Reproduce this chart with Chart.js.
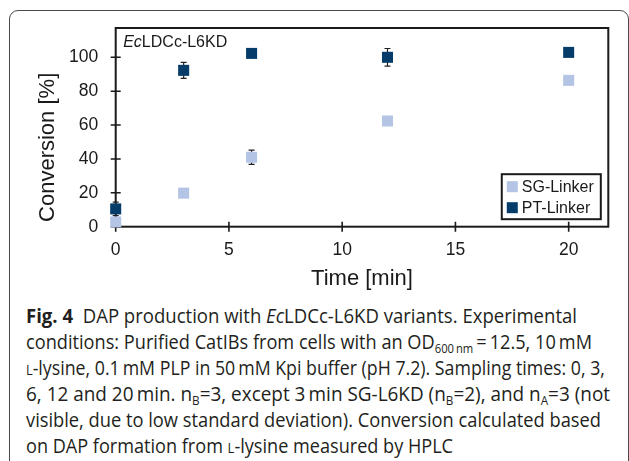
<!DOCTYPE html>
<html><head><meta charset="utf-8">
<script src="https://cdn.jsdelivr.net/npm/chart.js@4/dist/chart.umd.min.js"></script>
<style>
html,body{margin:0;padding:0;background:#fff;}
body{width:629px;height:461px;position:relative;overflow:hidden;}
#frame{position:absolute;left:8.5px;top:10px;width:620px;height:480px;border:1.5px solid #4a4a4a;border-radius:9px;box-sizing:border-box;}
#c{position:absolute;left:0;top:0;}
#cap{position:absolute;left:26px;top:303px;font-family:"Open Sans",sans-serif;font-size:19.5px;line-height:26px;color:#231f20;}
#cap .ln{white-space:nowrap;height:26px;}
#cap .ln span.t{display:inline-block;transform-origin:0 50%;}
#cap sub{font-size:0.62em;vertical-align:-0.3em;line-height:0;}
#cap .sc{font-variant:small-caps;}
#cap b{font-weight:700;}
</style></head>
<body>
<div id="frame"></div>
<canvas id="c" width="629" height="300"></canvas>
<div id="cap">
<div class="ln" data-w="551"><span class="t"><b>Fig. 4</b>&nbsp;&nbsp;DAP production with <i>Ec</i>LDCc-L6KD variants. Experimental</span></div>
<div class="ln" data-w="566"><span class="t">conditions: Purified CatIBs from cells with an OD<sub>600&#8201;nm</sub>&#8201;=&#8201;12.5, 10&#8201;mM</span></div>
<div class="ln" data-w="579"><span class="t"><span class="sc">l</span>-lysine, 0.1&#8201;mM PLP in 50&#8201;mM Kpi buffer (pH 7.2). Sampling times: 0, 3,</span></div>
<div class="ln" data-w="584"><span class="t">6, 12 and 20&#8201;min. n<sub>B</sub>=3, except 3&#8201;min SG-L6KD (n<sub>B</sub>=2), and n<sub>A</sub>=3 (not</span></div>
<div class="ln" data-w="575"><span class="t">visible, due to low standard deviation). Conversion calculated based</span></div>
<div class="ln" data-w="427"><span class="t">on DAP formation from <span class="sc">l</span>-lysine measured by HPLC</span></div>
</div>
<script>
// ---- data ----
const timePoints = [0, 3, 6, 12, 20];
const sgLinker = [2.8, 19.8, 41.0, 62.4, 86.4];
const sgLinkerErr = [0, 0, 4.2, 0, 0];
const ptLinker = [10.5, 92.3, 102.3, 100.0, 102.9];
const ptLinkerErr = [4.0, 4.7, 0, 5.2, 0];
const seriesLabels = ["SG-Linker", "PT-Linker"];
const xTickValues = [0, 5, 10, 15, 20];
const yTickValues = [0, 20, 40, 60, 80, 100];
const xTitle = "Time [min]";
const yTitle = "Conversion [%]";
const panelLabelItalic = "Ec";
const panelLabelRest = "LDCc-L6KD";

const SG_COLOR = "#b4c4e4";
const PT_COLOR = "#053c6a";
const INK = "#1a1a1a";
const FONT = '"Liberation Sans", Arial, sans-serif';

function toPoints(xs, ys){ return xs.map((x,i)=>({x:x, y:ys[i]})); }

const errors = [sgLinkerErr, ptLinkerErr];

const decor = {
  id: 'decor',
  beforeDatasetsDraw(chart){
    const {ctx, chartArea: a, scales:{x, y}} = chart;
    ctx.save();
    // frame
    ctx.strokeStyle = INK; ctx.lineWidth = 2;
    ctx.strokeRect(a.left, a.top, a.right - a.left, a.bottom - a.top);
    // crossing ticks
    ctx.lineWidth = 1.6;
    ctx.beginPath();
    y.ticks.forEach(t => { const py = y.getPixelForValue(t.value); ctx.moveTo(a.left - 5, py); ctx.lineTo(a.left + 5, py); });
    x.ticks.forEach(t => { const px = x.getPixelForValue(t.value); ctx.moveTo(px, a.bottom - 5); ctx.lineTo(px, a.bottom + 5); });
    ctx.stroke();
    // error bars
    ctx.lineWidth = 1.2; ctx.strokeStyle = "#222";
    chart.data.datasets.forEach((ds, di) => {
      ds.data.forEach((p, i) => {
        const e = errors[di][i];
        if (!e) return;
        const px = x.getPixelForValue(p.x);
        const y1 = y.getPixelForValue(p.y - e), y2 = y.getPixelForValue(p.y + e);
        ctx.beginPath();
        ctx.moveTo(px, y1); ctx.lineTo(px, y2);
        ctx.moveTo(px - 3, y1); ctx.lineTo(px + 3, y1);
        ctx.moveTo(px - 3, y2); ctx.lineTo(px + 3, y2);
        ctx.stroke();
      });
    });
    // y title
    ctx.fillStyle = INK;
    ctx.font = '22px ' + FONT;
    ctx.textAlign = 'center'; ctx.textBaseline = 'middle';
    ctx.translate(47.5, (a.top + a.bottom) / 2 + 20);
    ctx.rotate(-Math.PI / 2);
    ctx.fillText(yTitle, 0, 0);
    ctx.restore();
  },
  afterDatasetsDraw(chart){
    const {ctx, chartArea: a} = chart;
    ctx.save();
    // panel label
    ctx.fillStyle = INK; ctx.textBaseline = 'middle'; ctx.textAlign = 'left';
    ctx.font = 'italic 16px ' + FONT;
    const lx = a.left + 7.5, ly = a.top + 15;
    ctx.fillText(panelLabelItalic, lx, ly);
    const w1 = ctx.measureText(panelLabelItalic).width;
    ctx.font = '16px ' + FONT;
    ctx.fillText(panelLabelRest, lx + w1, ly);
    // legend
    ctx.font = '16px ' + FONT;
    const tw = Math.max(...chart.data.datasets.map(d => ctx.measureText(d.label).width));
    const boxW = 5 + 11 + 4 + tw + 7, boxH = 45;
    const bx = a.right - 7.5 - boxW, by = a.bottom - 7.5 - boxH;
    ctx.fillStyle = '#fff'; ctx.fillRect(bx, by, boxW, boxH);
    ctx.strokeStyle = INK; ctx.lineWidth = 2; ctx.strokeRect(bx, by, boxW, boxH);
    chart.data.datasets.forEach((d, i) => {
      const cy = by + 12.5 + i * 21;
      ctx.fillStyle = d.backgroundColor;
      ctx.fillRect(bx + 5, cy - 5.5, 11, 11);
      ctx.fillStyle = INK;
      ctx.fillText(d.label, bx + 20, cy + 0.5);
    });
    ctx.restore();
  }
};

new Chart(document.getElementById('c'), {
  type: 'scatter',
  data: {
    datasets: [
      { label: seriesLabels[0], data: toPoints(timePoints, sgLinker), backgroundColor: SG_COLOR, borderWidth: 0, pointStyle: 'rect', pointRadius: 7.8, clip: false },
      { label: seriesLabels[1], data: toPoints(timePoints, ptLinker), backgroundColor: PT_COLOR, borderWidth: 0, pointStyle: 'rect', pointRadius: 7.8, clip: false }
    ]
  },
  options: {
    responsive: false, animation: false, devicePixelRatio: 1, events: [],
    layout: { padding: { top: 28, right: 20.7, left: 0, bottom: 0 } },
    plugins: { legend: { display: false }, tooltip: { enabled: false } },
    scales: {
      x: {
        type: 'linear', min: 0, max: 21.75,
        afterBuildTicks: s => { s.ticks = xTickValues.map(v => ({ value: v })); },
        afterFit: s => { s.height = 73.3; },
        grid: { display: false, drawTicks: false }, border: { display: false },
        ticks: { padding: 12.5, color: INK, font: { family: FONT, size: 17.5 }, callback: v => String(v), maxRotation: 0 },
        title: { display: true, text: xTitle, color: INK, font: { family: FONT, size: 22 }, padding: { top: 0, bottom: 8 } }
      },
      y: {
        type: 'linear', min: 0, max: 117.3,
        afterBuildTicks: s => { s.ticks = yTickValues.map(v => ({ value: v })); },
        afterFit: s => { s.width = 115.7; },
        grid: { display: false, drawTicks: false }, border: { display: false },
        ticks: { padding: 17.5, color: INK, font: { family: FONT, size: 17.5 }, callback: v => String(v) }
      }
    }
  },
  plugins: [decor]
});

// caption line fitting
function fitCaption(){
  document.querySelectorAll('#cap .ln').forEach(ln => {
    const t = ln.querySelector('span.t');
    t.style.transform = 'none';
    const w = t.getBoundingClientRect().width;
    const target = parseFloat(ln.dataset.w);
    if (w > 0) t.style.transform = 'scaleX(' + (target / w).toFixed(4) + ')';
  });
}
if (document.fonts && document.fonts.ready) document.fonts.ready.then(fitCaption);
fitCaption();
</script>
</body></html>
